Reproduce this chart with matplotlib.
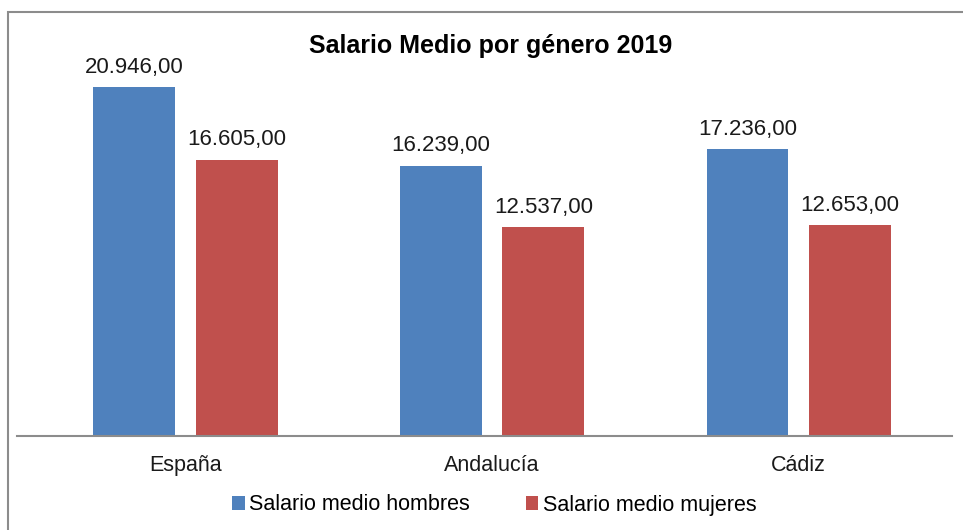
import matplotlib
matplotlib.use('Agg')
import matplotlib.pyplot as plt
from matplotlib.patches import Rectangle
import numpy as np

plt.rcParams['font.family'] = ['Liberation Sans', 'DejaVu Sans']

categories = ["España", "Andalucía", "Cádiz"]
hombres = [20946, 16239, 17236]
mujeres = [16605, 12537, 12653]
series_names = ["Salario medio hombres", "Salario medio mujeres"]
title = "Salario Medio por género 2019"

def fmt(v):
    # formato español: 20.946,00
    s = "{:,.2f}".format(v)
    return s.replace(",", "X").replace(".", ",").replace("X", ".")

W, H = 963, 530
fig = plt.figure(figsize=(W / 100, H / 100), dpi=100)

# marco del gráfico (solo se ven borde superior e izquierdo)
fig.patches.append(Rectangle((8 / W, -0.1), 1.2, (H - 12) / H + 0.1,
                             transform=fig.transFigure, fill=False,
                             edgecolor='#8c8c8c', linewidth=1.5))

ax = fig.add_axes([17 / W, (H - 436) / H, 935 / W, 416 / H])

x = np.arange(len(categories))
w = 0.267
b1 = ax.bar(x - 0.167, hombres, w, color='#4F81BD', label=series_names[0])
b2 = ax.bar(x + 0.167, mujeres, w, color='#C0504D', label=series_names[1])

for bars, vals in ((b1, hombres), (b2, mujeres)):
    for r, v in zip(bars, vals):
        ax.text(r.get_x() + r.get_width() / 2, v + 580, fmt(v),
                ha='center', va='bottom', fontsize=16, color='#1a1a1a')

ax.set_xlim(-0.55, 2.5)
ax.set_ylim(0, 25000)
ax.set_yticks([])
ax.set_xticks(x)
ax.set_xticklabels(categories, fontsize=15.5, color='#1a1a1a')
ax.tick_params(axis='x', length=0, pad=14)
for s in ['top', 'right', 'left']:
    ax.spines[s].set_visible(False)
ax.spines['bottom'].set_color('#8c8c8c')
ax.spines['bottom'].set_linewidth(1.5)

fig.text(491 / W, 1 - 46 / H, title, ha='center', va='center',
         fontsize=18, fontweight='bold', color='black')

fig.legend(handles=[b1, b2], loc='center', bbox_to_anchor=(494 / W, 1 - 505 / H),
           ncol=2, frameon=False, fontsize=15.5, handlelength=0.6, handleheight=0.6,
           handletextpad=0.2, columnspacing=2.6)

fig.savefig('out.png', dpi=100)
print("Picture saved as out.png")
